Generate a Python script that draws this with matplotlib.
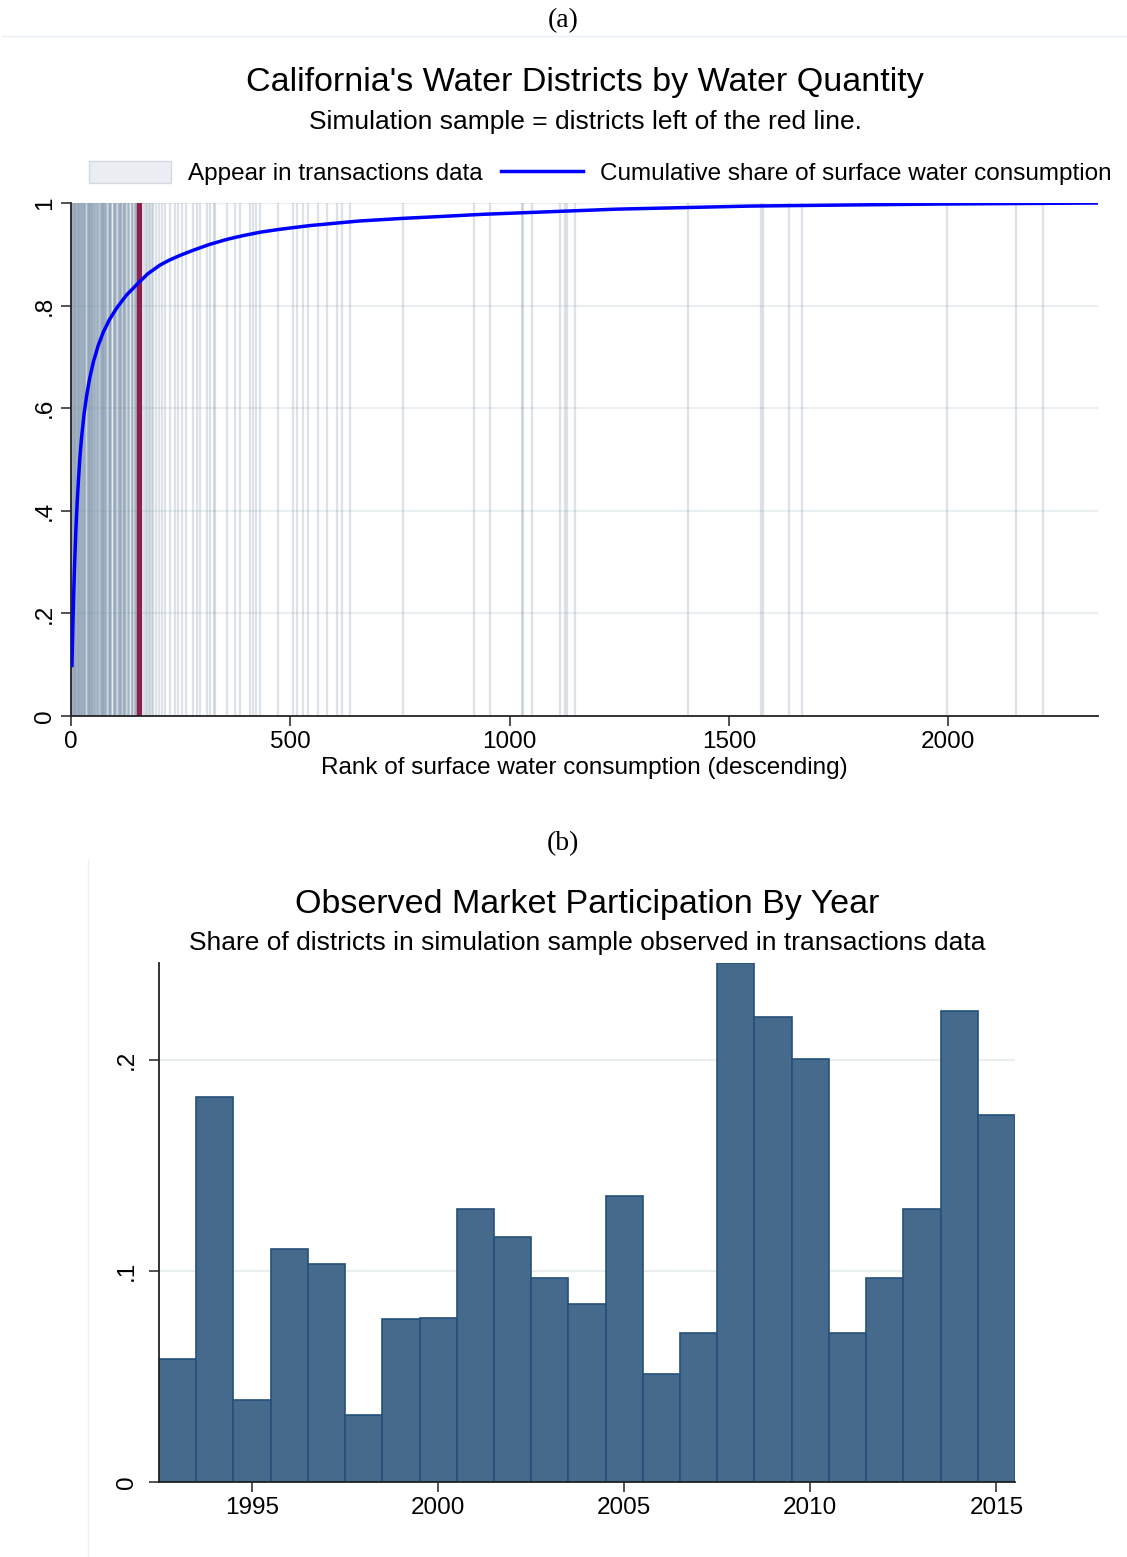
import matplotlib; matplotlib.use("Agg")
import matplotlib.pyplot as plt
from matplotlib.patches import Patch
from matplotlib.lines import Line2D

plt.rcParams["font.family"] = ["Liberation Sans", "DejaVu Sans"]

# --- panel (a) data ---
curve_rank = [2, 4, 6, 8, 11, 14, 17, 20, 24, 30, 36, 43, 51, 62, 74, 88, 104, 126, 150,
              175, 203, 225, 249, 279, 315, 355, 390, 431, 470, 507, 545, 583, 620, 659,
              756, 850, 940, 1092, 1244, 1396, 1548, 1760, 1982, 2342]
curve_share = [0.095, 0.17, 0.235, 0.29, 0.36, 0.415, 0.46, 0.50, 0.542, 0.59, 0.626,
               0.66, 0.69, 0.722, 0.749, 0.773, 0.795, 0.82, 0.841, 0.862, 0.879, 0.889,
               0.898, 0.908, 0.919, 0.929, 0.936, 0.943, 0.948, 0.952, 0.956, 0.959,
               0.962, 0.965, 0.970, 0.974, 0.978, 0.983, 0.988, 0.991, 0.994, 0.996,
               0.998, 1.0]
cutoff_rank = 156
trans_ranks = [1, 2, 3, 4, 5, 6, 7, 8, 9, 10, 11, 12, 13, 15, 16, 17, 18, 19, 20, 21, 22,
               23, 24, 26, 27, 28, 29, 30, 31, 32, 33, 37, 38, 39, 40, 41, 42, 43, 44,
               45, 46, 47, 48, 49, 50, 52, 53, 54, 55, 58, 59, 60, 61, 62, 63, 67,
               68, 69, 70, 71, 72, 73, 74, 75, 76, 77, 78, 79, 80, 82, 86, 87, 88, 89,
               90, 91, 92, 97, 98, 99, 100, 101, 102, 103, 108, 109, 110, 111,
               112, 113, 114, 115, 119, 120, 121, 122, 123, 124, 125, 130, 131,
               132, 133, 138, 139, 140, 141, 146, 147, 148, 149, 150, 151, 152,
               153, 154, 158, 160, 166, 170, 174, 177, 180, 185, 188, 193, 200, 207,
               214, 226, 237, 245, 252, 262, 279, 287, 294, 309, 317, 325, 329, 355, 374,
               385, 408, 416, 423, 431, 473, 507, 515, 530, 541, 564, 583, 606, 617, 636,
               756, 918, 955, 1028, 1031, 1051, 1115, 1127, 1130, 1150, 1408, 1573, 1579,
               1637, 1668, 1998, 2155, 2217]
a_yticks = [0, 0.2, 0.4, 0.6, 0.8, 1.0]
a_ylabels = ["0", ".2", ".4", ".6", ".8", "1"]
a_xticks = [0, 500, 1000, 1500, 2000]

# --- panel (b) data ---
years = list(range(1993, 2016))
share_year = [0.0583, 0.1825, 0.0387, 0.1104, 0.1033, 0.0318, 0.0773, 0.0777, 0.1294,
              0.1161, 0.0967, 0.0844, 0.1355, 0.0512, 0.0706, 0.2461, 0.2204, 0.2008,
              0.0706, 0.0967, 0.1294, 0.2234, 0.1739]
b_yticks = [0, 0.1, 0.2]
b_ylabels = ["0", ".1", ".2"]
b_xticks = [1995, 2000, 2005, 2010, 2015]

W, H = 1127, 1557
fig = plt.figure(figsize=(W / 100, H / 100), dpi=100)

def fx(px): return px / W
def fy(py): return 1 - py / H

GRID = "#e9eff1"
FS = 17.5
TFS = 24.5
SFS = 19

def style(ax):
    for s in ("top", "right"):
        ax.spines[s].set_visible(False)
    for s in ("left", "bottom"):
        ax.spines[s].set_linewidth(1.3)
        ax.spines[s].set_color("#222222")
    ax.tick_params(axis="both", direction="out", length=7, width=1.3,
                   color="#444444", labelsize=FS, pad=4)

# ---------------- panel (a) ----------------
ax = fig.add_axes([fx(71), fy(716), fx(1098) - fx(71), fy(203) - fy(716)])
style(ax)
for yv in a_yticks[1:]:
    ax.axhline(yv, color=GRID, lw=1.5, zorder=0)
for r in trans_ranks:
    ax.axvline(r, color="#7f96ab", alpha=0.27, lw=1.6, zorder=1)
ax.axvline(cutoff_rank, color="#8f1f4b", lw=3.8, zorder=2)
ax.plot(curve_rank, curve_share, color="#0000ff", lw=2.5, zorder=3,
        solid_capstyle="butt", solid_joinstyle="round")
ax.set_xlim(0, 2342)
ax.set_ylim(0, 1)
ax.set_xticks(a_xticks)
ax.set_yticks(a_yticks)
ax.set_yticklabels(a_ylabels, rotation=90, va="center")
ax.set_xlabel("Rank of surface water consumption (descending)", fontsize=FS, labelpad=3)

handles = [Patch(facecolor="#eaeef2", edgecolor="#d3d9df", lw=1),
           Line2D([], [], color="#0000ff", lw=2.5)]
fig.legend(handles, ["Appear in transactions data",
                     "Cumulative share of surface water consumption"],
           loc="center", bbox_to_anchor=(fx(600), fy(173)), ncol=2, frameon=False,
           fontsize=FS, handlelength=3.4, handleheight=1.0, handletextpad=0.68,
           columnspacing=0.75)

fig.text(fx(585), fy(82), "California's Water Districts by Water Quantity",
         ha="center", va="center", fontsize=TFS)
fig.text(fx(585), fy(122), "Simulation sample = districts left of the red line.",
         ha="center", va="center", fontsize=SFS)
fig.text(fx(563), fy(21), "(a)", ha="center", va="center", fontsize=20,
         family="Liberation Serif")
fig.add_artist(Line2D([fx(2), fx(1127)], [fy(36), fy(36)], color="#e8f0f5", lw=1))

# ---------------- panel (b) ----------------
bx = fig.add_axes([fx(159), fy(1482), fx(1015) - fx(159), fy(963) - fy(1482)])
style(bx)
for yv in b_yticks[1:]:
    bx.axhline(yv, color=GRID, lw=1.5, zorder=0)
bx.bar(years, share_year, width=1.0, color="#466a8c", edgecolor="#24507a",
       linewidth=1.2, zorder=2)
bx.set_xlim(years[0] - 0.5, years[-1] + 0.5)
bx.set_ylim(0, max(share_year))
bx.set_xticks(b_xticks)
bx.set_yticks(b_yticks)
bx.set_yticklabels(b_ylabels, rotation=90, va="center")
bx.tick_params(axis="y", pad=8)

fig.text(fx(587), fy(904), "Observed Market Participation By Year",
         ha="center", va="center", fontsize=TFS)
fig.text(fx(587), fy(943),
         "Share of districts in simulation sample observed in transactions data",
         ha="center", va="center", fontsize=SFS)
fig.text(fx(563), fy(844), "(b)", ha="center", va="center", fontsize=20,
         family="Liberation Serif")
fig.add_artist(Line2D([fx(88), fx(88)], [fy(860), fy(1557)], color="#eef2f5", lw=1))

fig.savefig("out.png", dpi=100)
